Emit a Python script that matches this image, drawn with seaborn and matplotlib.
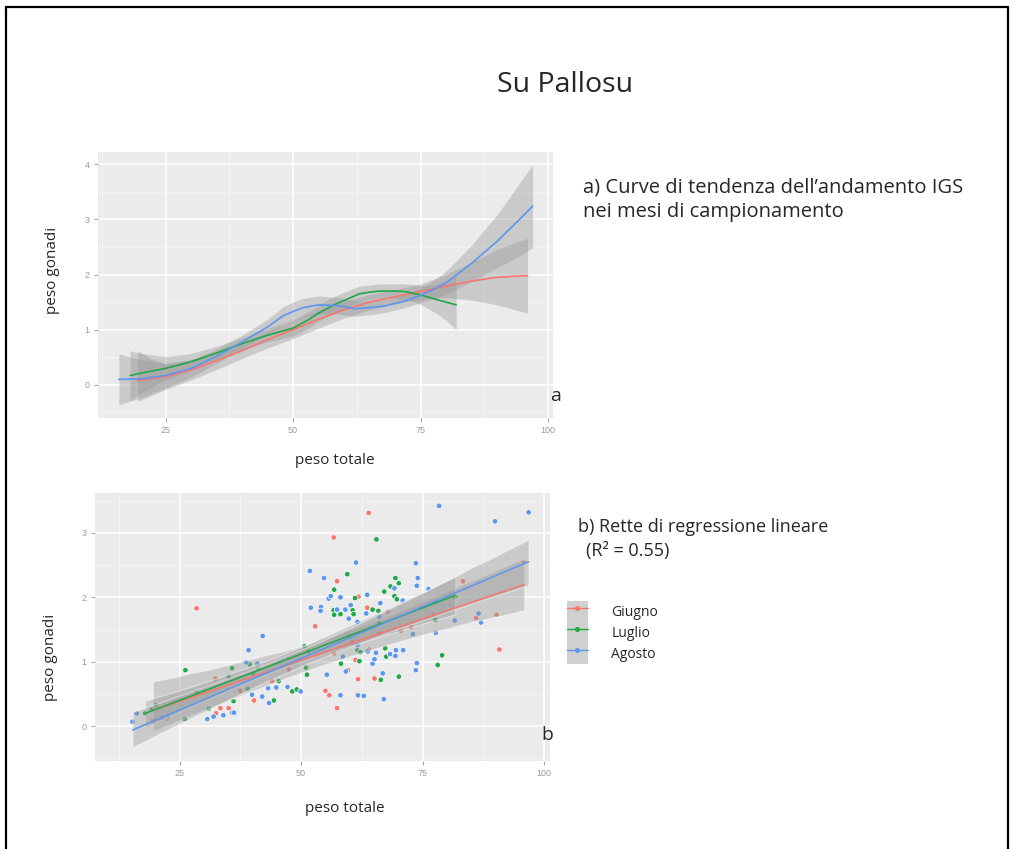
import numpy as np
import pandas as pd
import matplotlib
matplotlib.use("Agg")
import matplotlib.pyplot as plt
from matplotlib.lines import Line2D
from matplotlib.patches import Patch
from matplotlib.legend_handler import HandlerTuple
import seaborn as sns

# ---------------------------------------------------------------- data
months = ["Giugno", "Luglio", "Agosto"]
palette = {"Giugno": "#F8766D", "Luglio": "#1fa846", "Agosto": "#5b96f0"}

# smoothed trend (loess) per month, with its confidence band
giugno_curve_x = [19.5, 22, 25, 30, 35, 40, 45, 50, 55, 60, 65, 70, 75, 80, 85, 90, 96]
giugno_curve_y = [0.08, 0.11, 0.15, 0.27, 0.44, 0.62, 0.82, 1.00, 1.19, 1.36, 1.50, 1.60, 1.69, 1.79, 1.88, 1.95, 1.98]
giugno_curve_lo = [-0.30, -0.20, -0.08, 0.09, 0.28, 0.48, 0.67, 0.84, 1.03, 1.21, 1.36, 1.47, 1.55, 1.58, 1.54, 1.45, 1.30]
giugno_curve_hi = [0.62, 0.48, 0.38, 0.45, 0.60, 0.76, 0.97, 1.16, 1.35, 1.51, 1.64, 1.73, 1.83, 2.00, 2.22, 2.45, 2.66]

luglio_curve_x = [18, 20, 25, 30, 35, 40, 45, 50, 53, 55, 58, 60, 63, 65, 67, 70, 72, 75, 78, 80, 82]
luglio_curve_y = [0.17, 0.21, 0.30, 0.42, 0.58, 0.75, 0.90, 1.03, 1.18, 1.30, 1.45, 1.53, 1.65, 1.68, 1.70, 1.70, 1.69, 1.63, 1.55, 1.50, 1.45]
luglio_curve_lo = [-0.28, -0.15, 0.09, 0.27, 0.46, 0.64, 0.78, 0.88, 1.03, 1.15, 1.30, 1.38, 1.51, 1.55, 1.57, 1.57, 1.55, 1.46, 1.30, 1.17, 1.00]
luglio_curve_hi = [0.62, 0.57, 0.51, 0.57, 0.70, 0.86, 1.02, 1.18, 1.33, 1.45, 1.60, 1.68, 1.79, 1.81, 1.83, 1.83, 1.83, 1.80, 1.82, 1.88, 1.98]

agosto_curve_x = [15.8, 20, 25, 30, 35, 40, 45, 48, 50, 52, 55, 58, 60, 62, 65, 68, 72, 75, 78, 80, 85, 90, 95, 97]
agosto_curve_y = [0.10, 0.11, 0.17, 0.30, 0.52, 0.78, 1.05, 1.25, 1.33, 1.40, 1.45, 1.44, 1.42, 1.38, 1.40, 1.43, 1.52, 1.62, 1.75, 1.85, 2.20, 2.60, 3.05, 3.24]
agosto_curve_lo = [-0.36, -0.24, -0.05, 0.14, 0.39, 0.66, 0.91, 1.09, 1.16, 1.23, 1.29, 1.29, 1.27, 1.24, 1.27, 1.31, 1.40, 1.49, 1.58, 1.64, 1.87, 2.12, 2.37, 2.49]
agosto_curve_hi = [0.56, 0.46, 0.39, 0.46, 0.65, 0.90, 1.19, 1.41, 1.50, 1.57, 1.61, 1.59, 1.57, 1.52, 1.53, 1.55, 1.64, 1.75, 1.92, 2.06, 2.53, 3.08, 3.73, 3.99]

# individual fish: total weight vs gonad weight
giugno_peso_tot = [19.5, 22.5, 28.5, 32.0, 32.5, 32.4, 33.4, 35.1, 37.5, 40.3, 44.0, 47.5, 52.9,
                   55.0, 55.8, 56.7, 56.8, 57.4, 57.4, 59.6, 60.5, 61.2, 61.7, 61.8, 63.6, 63.6,
                   63.9, 64.0, 65.1, 66.0, 67.8, 70.5, 72.6, 77.3, 83.3, 86.0, 90.2, 90.8, 95.9]
giugno_peso_gon = [0.08, 0.12, 1.83, 0.16, 0.20, 0.74, 0.28, 0.28, 0.55, 0.40, 0.70, 0.88, 1.55,
                   0.55, 0.48, 2.93, 1.13, 2.25, 0.28, 0.87, 1.30, 1.03, 0.73, 2.01, 1.84, 1.17,
                   3.31, 1.19, 0.74, 1.44, 1.78, 1.48, 1.54, 1.73, 2.25, 1.68, 1.73, 1.19, 2.54]

luglio_peso_tot = [17.9, 19.3, 20.1, 26.1, 26.2, 28.5, 31.0, 35.1, 35.8, 36.1, 39.0, 39.4, 40.1,
                   41.2, 44.4, 45.4, 48.2, 49.1, 50.7, 51.0, 51.2, 51.5, 56.7, 56.8, 56.8, 58.1,
                   58.2, 59.5, 59.9, 60.6, 60.8, 61.1, 61.6, 62.0, 62.2, 64.7, 65.5, 65.9, 66.1,
                   66.4, 67.1, 67.3, 67.5, 68.4, 69.2, 69.4, 69.7, 70.1, 70.1, 77.6, 78.1, 79.0,
                   81.7]
luglio_peso_gon = [0.20, 0.26, 0.33, 0.11, 0.87, 0.52, 0.27, 0.77, 0.90, 0.39, 0.58, 0.96, 0.82,
                   0.89, 0.40, 0.70, 0.54, 0.57, 1.24, 0.91, 0.80, 1.16, 1.80, 1.73, 2.12, 1.74,
                   0.97, 2.36, 1.39, 1.80, 1.74, 1.99, 1.18, 1.01, 1.15, 1.81, 2.90, 1.79, 1.60,
                   0.72, 2.09, 1.21, 1.08, 2.17, 2.02, 2.30, 1.97, 2.22, 0.77, 1.65, 0.95, 1.10,
                   2.01]

agosto_peso_tot = [15.3, 16.2, 21.4, 22.6, 30.7, 32.0, 34.0, 35.8, 36.2, 38.7, 39.2, 39.9, 41.0,
                   42.0, 42.1, 43.2, 43.4, 44.9, 47.2, 49.9, 51.8, 52.0, 54.1, 54.0, 54.7, 55.3,
                   55.7, 56.1, 57.4, 58.1, 58.1, 58.6, 59.1, 59.2, 59.8, 60.2, 61.3, 61.6, 61.6,
                   61.7, 62.9, 63.4, 63.6, 63.7, 64.7, 65.1, 65.4, 66.1, 66.3, 66.8, 67.0, 68.3,
                   69.2, 69.4, 69.5, 70.9, 71.0, 73.0, 73.6, 73.6, 73.8, 73.8, 74.0, 76.2, 77.7,
                   78.4, 81.6, 86.5, 87.0, 89.9, 96.8]
agosto_peso_gon = [0.07, 0.20, 0.13, 0.15, 0.11, 0.15, 0.17, 0.21, 0.21, 0.99, 1.18, 0.49, 0.97,
                   0.46, 1.40, 0.59, 0.36, 0.60, 0.61, 0.54, 2.41, 1.84, 1.85, 1.79, 2.30, 0.80,
                   1.98, 2.02, 1.81, 2.00, 0.48, 1.08, 1.81, 0.85, 1.67, 1.88, 2.54, 1.62, 1.26,
                   0.48, 0.47, 1.75, 2.04, 1.16, 0.97, 1.04, 1.14, 1.70, 1.91, 0.82, 0.42, 1.12,
                   2.14, 1.09, 1.18, 1.95, 1.18, 1.43, 2.53, 0.87, 2.18, 0.98, 2.30, 2.13, 1.45,
                   3.42, 1.64, 1.75, 1.61, 3.18, 3.32]

x_ticks = [25, 50, 75, 100]

# ---------------------------------------------------------------- tables
curves = pd.concat([
    pd.DataFrame({"peso totale": giugno_curve_x, "peso gonadi": giugno_curve_y,
                  "lo": giugno_curve_lo, "hi": giugno_curve_hi, "mese": "Giugno"}),
    pd.DataFrame({"peso totale": luglio_curve_x, "peso gonadi": luglio_curve_y,
                  "lo": luglio_curve_lo, "hi": luglio_curve_hi, "mese": "Luglio"}),
    pd.DataFrame({"peso totale": agosto_curve_x, "peso gonadi": agosto_curve_y,
                  "lo": agosto_curve_lo, "hi": agosto_curve_hi, "mese": "Agosto"}),
], ignore_index=True)

fish = pd.concat([
    pd.DataFrame({"peso totale": giugno_peso_tot, "peso gonadi": giugno_peso_gon, "mese": "Giugno"}),
    pd.DataFrame({"peso totale": luglio_peso_tot, "peso gonadi": luglio_peso_gon, "mese": "Luglio"}),
    pd.DataFrame({"peso totale": agosto_peso_tot, "peso gonadi": agosto_peso_gon, "mese": "Agosto"}),
], ignore_index=True)

# ---------------------------------------------------------------- figure
sns.set_theme(style="darkgrid")
plt.rcParams["font.family"] = ["Open Sans", "DejaVu Sans"]

W, H = 1016, 849
fig = plt.figure(figsize=(W / 100, H / 100), dpi=100)
fig.patch.set_facecolor("white")


def fx(px):
    return px / W


def fy(py):
    return 1 - py / H


def ggplot_axes(ax, xlim, ylim, yticks):
    ax.set_facecolor("#ebebeb")
    ax.set_xlim(*xlim)
    ax.set_ylim(*ylim)
    ax.set_xticks(x_ticks)
    ax.set_xticks([12.5, 37.5, 62.5, 87.5], minor=True)
    ax.set_yticks(yticks)
    ax.set_yticks([t + 0.5 for t in [-1] + list(yticks)], minor=True)
    ax.set_ylim(*ylim)
    ax.grid(which="major", color="white", lw=1.1)
    ax.grid(which="minor", color="#f5f5f5", lw=0.6)
    ax.set_axisbelow(True)
    for s in ax.spines.values():
        s.set_visible(False)
    ax.tick_params(which="major", length=3, width=0.8, color="#a6a6a6",
                   labelsize=6.5, labelcolor="#9a9a9a", pad=3,
                   bottom=True, left=True)
    ax.tick_params(which="minor", length=0)
    for lab in ax.get_xticklabels() + ax.get_yticklabels():
        lab.set_family(["Liberation Sans", "DejaVu Sans"])
    ax.set_xlabel("")
    ax.set_ylabel("")


# a) loess trend curves
ax1 = fig.add_axes([fx(98), fy(418), 455 / W, 266 / H])
for m in months:
    c = curves[curves["mese"] == m]
    ax1.fill_between(c["peso totale"], c["lo"], c["hi"], color="#999999",
                     alpha=0.4, lw=0, zorder=2)
sns.lineplot(data=curves, x="peso totale", y="peso gonadi", hue="mese",
             hue_order=months, palette=palette, estimator=None, legend=False,
             lw=1.2, ax=ax1, zorder=3)
ggplot_axes(ax1, (11.7, 101.0), (-0.6, 4.22), [0, 1, 2, 3, 4])

# b) scatter with linear regression lines
ax2 = fig.add_axes([fx(95), fy(761), 455 / W, 268 / H])
sns.scatterplot(data=fish, x="peso totale", y="peso gonadi", hue="mese",
                hue_order=months, palette=palette, s=16, edgecolor="#f4f4f4",
                linewidth=0.6, legend=False, ax=ax2, zorder=2)
for i, m in enumerate(months):
    n_before = len(ax2.collections)
    sns.regplot(data=fish[fish["mese"] == m], x="peso totale", y="peso gonadi",
                scatter=False, color=palette[m], ci=95, seed=i + 1,
                line_kws={"lw": 1.1, "zorder": 4}, ax=ax2)
    for coll in ax2.collections[n_before:]:
        coll.set_facecolor("#999999")
        coll.set_alpha(0.4)
        coll.set_zorder(3)
ggplot_axes(ax2, (7.6, 101.2), (-0.54, 3.62), [0, 1, 2, 3])

# legend with grey key boxes
handles = [(Patch(facecolor="#d0d0d0", edgecolor="none"),
            Line2D([], [], color=palette[m], marker="o", markersize=2.6, lw=1.0))
           for m in months]
fig.legend(handles, months, handler_map={tuple: HandlerTuple(ndivide=1, pad=0)},
           loc="upper left", bbox_to_anchor=(fx(567), fy(601)), frameon=False,
           fontsize=10, handlelength=1.5, handleheight=1.95, labelspacing=0.0,
           handletextpad=1.7, borderpad=0, borderaxespad=0)

# ---------------------------------------------------------------- text
fig.text(fx(565), fy(85), "Su Pallosu", ha="center", va="center", fontsize=20.5)
fig.text(fx(583), fy(188), "a) Curve di tendenza dell’andamento IGS",
         ha="left", va="center", fontsize=14.5)
fig.text(fx(583), fy(212), "nei mesi di campionamento",
         ha="left", va="center", fontsize=14.5)
fig.text(fx(578), fy(527), "b) Rette di regressione lineare",
         ha="left", va="center", fontsize=13)
fig.text(fx(586), fy(551), "(R² = 0.55)", ha="left", va="center", fontsize=13)
fig.text(fx(556), fy(396), "a", ha="center", va="center", fontsize=14)
fig.text(fx(547), fy(735), "b", ha="center", va="center", fontsize=14)

fig.text(fx(335), fy(461), "peso totale", ha="center", va="center", fontsize=11)
fig.text(fx(345), fy(808), "peso totale", ha="center", va="center", fontsize=11)
fig.text(fx(52), fy(270), "peso gonadi", ha="center", va="center",
         rotation=90, fontsize=11)
fig.text(fx(50), fy(657), "peso gonadi", ha="center", va="center",
         rotation=90, fontsize=11)

# page frame
for xs, ys in [([6, 6], [7, H]), ([6, 1008], [7, 7]), ([1008, 1008], [7, H])]:
    fig.add_artist(Line2D([fx(v) for v in xs], [fy(v) for v in ys],
                          color="black", lw=1.6, transform=fig.transFigure))

fig.savefig("out.png", dpi=100, facecolor="white")
